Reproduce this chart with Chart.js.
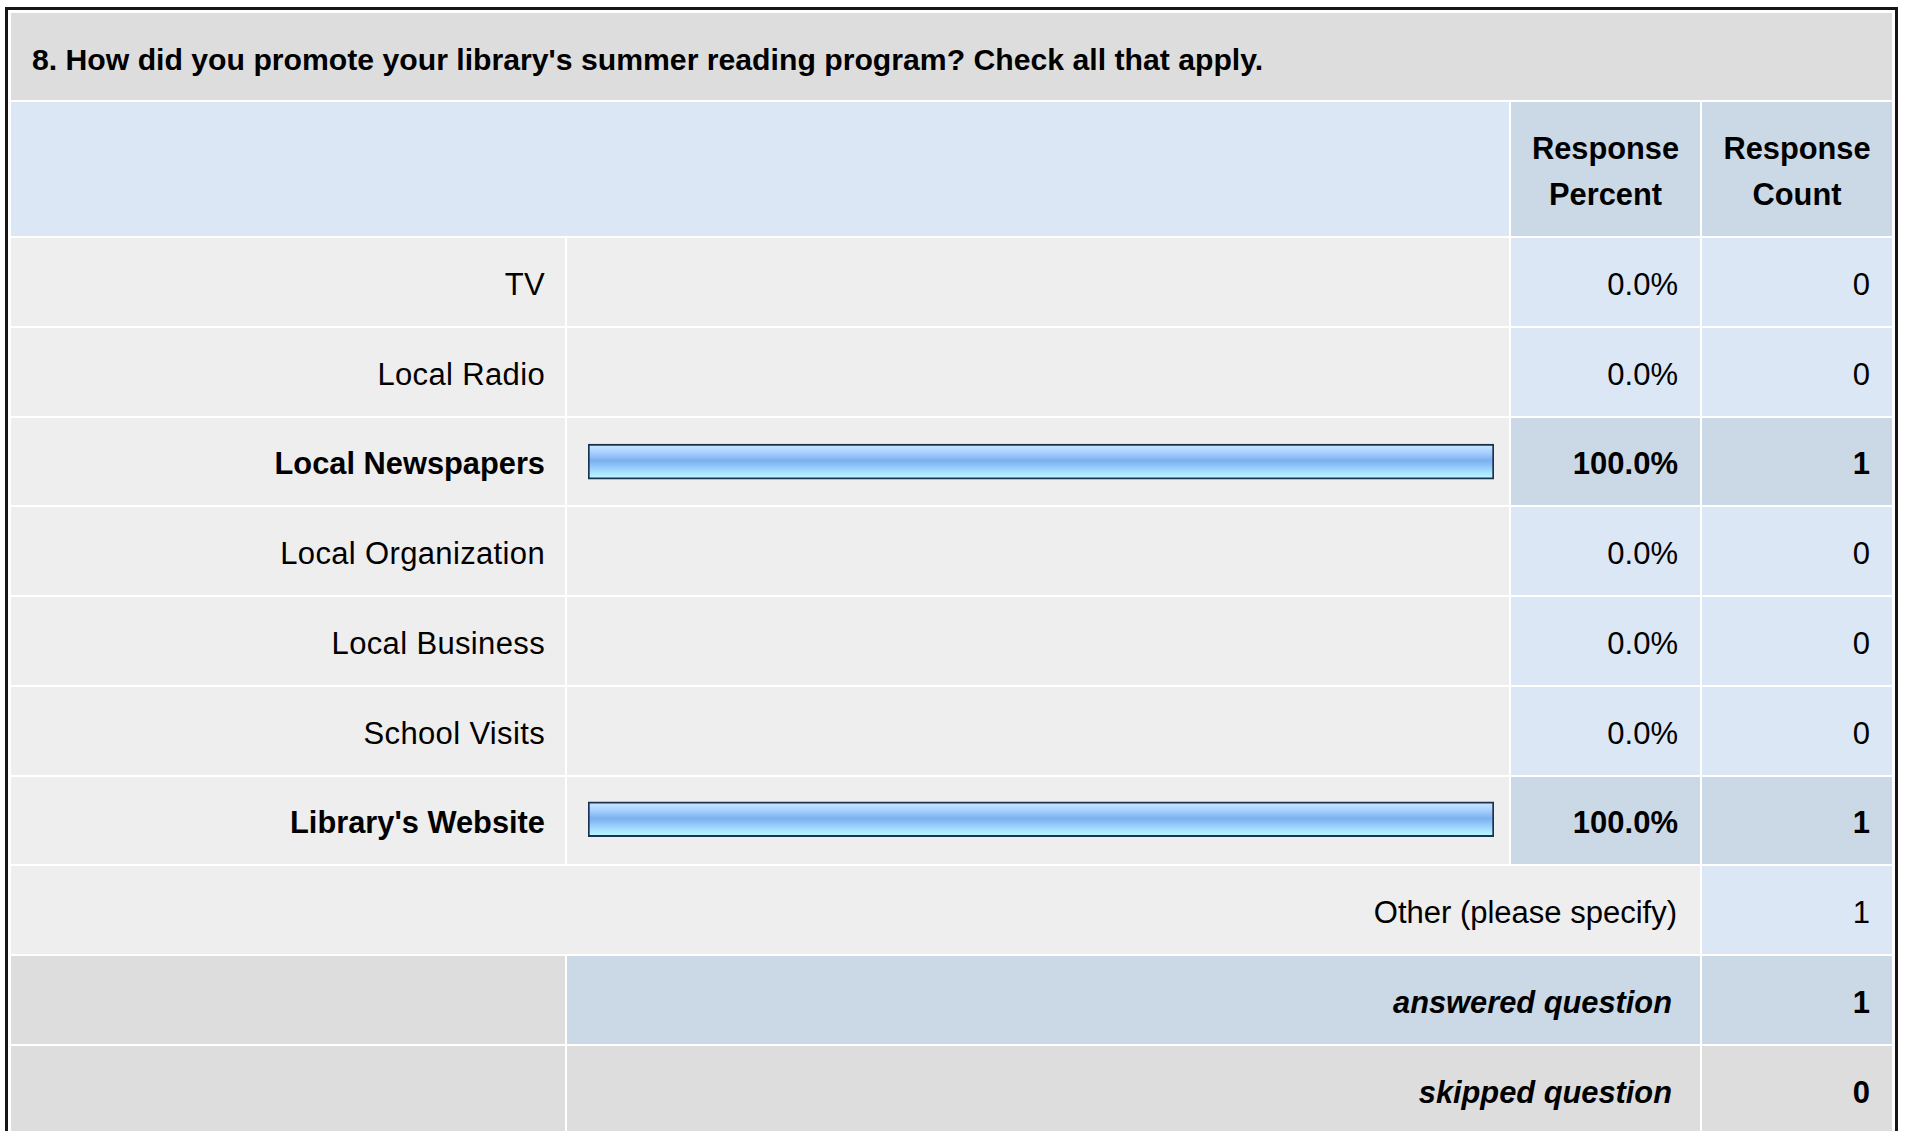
<!DOCTYPE html>
<html>
<head>
<meta charset="utf-8">
<script src="https://cdn.jsdelivr.net/npm/chart.js"></script>
<style>
  html, body { margin: 0; padding: 0; background: #fff; overflow: hidden; }
  body { width: 1913px; height: 1131px; position: relative; font-family: "Liberation Sans", Arial, sans-serif; font-size: 31px; color: #000; }
  #box { position: absolute; left: 5px; top: 7px; border: 3px solid #161616; padding: 1px; background: #fff; }
  table { border-collapse: separate; border-spacing: 2px; table-layout: fixed; width: 1885px; }
  td { padding: 0; vertical-align: middle; overflow: hidden; white-space: nowrap; }
  td > span { position: relative; top: 3px; }
  tr.title td { height: 87px; background: #dddddd; font-weight: bold; font-size: 30.2px; padding-left: 21px; }
  tr.head td { height: 134px; background: #dce7f5; }
  tr.head td.hd { background: #cbd8e6; font-weight: bold; font-size: 30.8px; text-align: center; white-space: normal; line-height: 46px; }
  tr.row td { height: 87.75px; }
  td.lab { background: #eeeeee; text-align: right; padding-right: 20px; letter-spacing: 0.35px; }
  td.bar { background: #eeeeee; }
  td.num { background: #dce7f5; text-align: right; padding-right: 22px; }
  tr.hi td.num { background: #cbd8e6; font-weight: bold; }
  tr.hi td.lab { font-weight: bold; font-size: 30.8px; letter-spacing: 0; }
  td.gray { background: #dddddd; }
  td.sum { text-align: right; padding-right: 28px; font-weight: bold; font-style: italic; font-size: 30.8px; }
  td.blue2 { background: #cbd8e6; }
  #chartWrap { position: absolute; }
</style>
</head>
<body>
<div id="box">
  <table id="tbl">
    <colgroup>
      <col style="width:554px"><col style="width:942px"><col style="width:189px"><col style="width:190px">
    </colgroup>
    <tbody id="tb"></tbody>
  </table>
</div>
<div id="chartWrap"><canvas id="barChart"></canvas></div>

<script>
// question text and answer choices
const question = "8. How did you promote your library's summer reading program? Check all that apply.";
const categories = [
    "TV", "Local Radio", "Local Newspapers", "Local Organization",
    "Local Business", "School Visits", "Library's Website"
];
const responsePercent = [0, 0, 100, 0, 0, 0, 100];
const responseCount = [0, 0, 1, 0, 0, 0, 1];
const otherLabel = "Other (please specify)";
const otherCount = 1;
const answeredCount = 1;
const skippedCount = 0;

// build the table
const tb = document.getElementById("tb");
const sp = (t) => "<span>" + t + "</span>";
let html = "";
html += '<tr class="title"><td colspan="4">' + sp(question.replace(/'/g, "&#39;")) + '</td></tr>';
html += '<tr class="head"><td colspan="2"></td><td class="hd">' + sp("Response<br>Percent") + '</td><td class="hd">' + sp("Response<br>Count") + '</td></tr>';
categories.forEach((c, i) => {
    const hi = responseCount[i] > 0 ? " hi" : "";
    html += '<tr class="row' + hi + '"><td class="lab">' + sp(c) + '</td><td class="bar"></td>' +
        '<td class="num">' + sp(responsePercent[i].toFixed(1) + '%') + '</td><td class="num">' + sp(responseCount[i]) + '</td></tr>';
});
html += '<tr class="row"><td class="lab" colspan="3" style="padding-right:23px;letter-spacing:0">' + sp(otherLabel) + '</td><td class="num">' + sp(otherCount) + '</td></tr>';
html += '<tr class="row"><td class="gray"></td><td class="sum blue2" colspan="2">' + sp("answered question") + '</td><td class="num blue2" style="font-weight:bold">' + sp(answeredCount) + '</td></tr>';
html += '<tr class="row"><td class="gray"></td><td class="sum gray" colspan="2">' + sp("skipped question") + '</td><td class="num gray" style="font-weight:bold">' + sp(skippedCount) + '</td></tr>';
tb.innerHTML = html;

// place the chart over the bar column
const barCells = document.querySelectorAll("td.bar");
const r0 = barCells[0].getBoundingClientRect();
const r1 = barCells[barCells.length - 1].getBoundingClientRect();
const padL = 21, padR = 15;
const wrap = document.getElementById("chartWrap");
const cw = Math.round(r0.width - padL - padR);
const ch = Math.round(r1.bottom - r0.top);
wrap.style.left = (r0.left + padL) + "px";
wrap.style.top = r0.top + "px";
wrap.style.width = cw + "px";
wrap.style.height = ch + "px";
const canvas = document.getElementById("barChart");
canvas.width = cw;
canvas.height = ch;

const barH = 35;
function barFill(context) {
    if (!(responsePercent[context.dataIndex] > 0)) return "rgba(0,0,0,0)";
    const chart = context.chart;
    const yScale = chart.scales.y;
    const y = yScale ? yScale.getPixelForValue(context.dataIndex) : NaN;
    if (!isFinite(y)) return "#8fc0f5";
    const g = chart.ctx.createLinearGradient(0, y - barH / 2, 0, y + barH / 2);
    g.addColorStop(0, "#d2e9ff");
    g.addColorStop(0.25, "#a6d0ff");
    g.addColorStop(0.47, "#7cb0ee");
    g.addColorStop(0.58, "#88bff6");
    g.addColorStop(0.8, "#a8e0ff");
    g.addColorStop(1, "#bcffff");
    return g;
}

const chart = new Chart(canvas.getContext("2d"), {
    type: "bar",
    data: {
        labels: categories,
        datasets: [{
            data: responsePercent,
            backgroundColor: barFill,
            borderColor: "#1b3150",
            borderWidth: (ctx) => (responsePercent[ctx.dataIndex] > 0 ? 2 : 0),
            borderSkipped: false,
            barThickness: barH
        }]
    },
    options: {
        indexAxis: "y",
        responsive: false,
        animation: false,
        devicePixelRatio: 1,
        layout: { padding: 0 },
        plugins: { legend: { display: false }, tooltip: { enabled: false } },
        scales: {
            x: { display: false, min: 0, max: 100 },
            y: { display: false }
        }
    }
});
chart.update();
</script>
</body>
</html>
